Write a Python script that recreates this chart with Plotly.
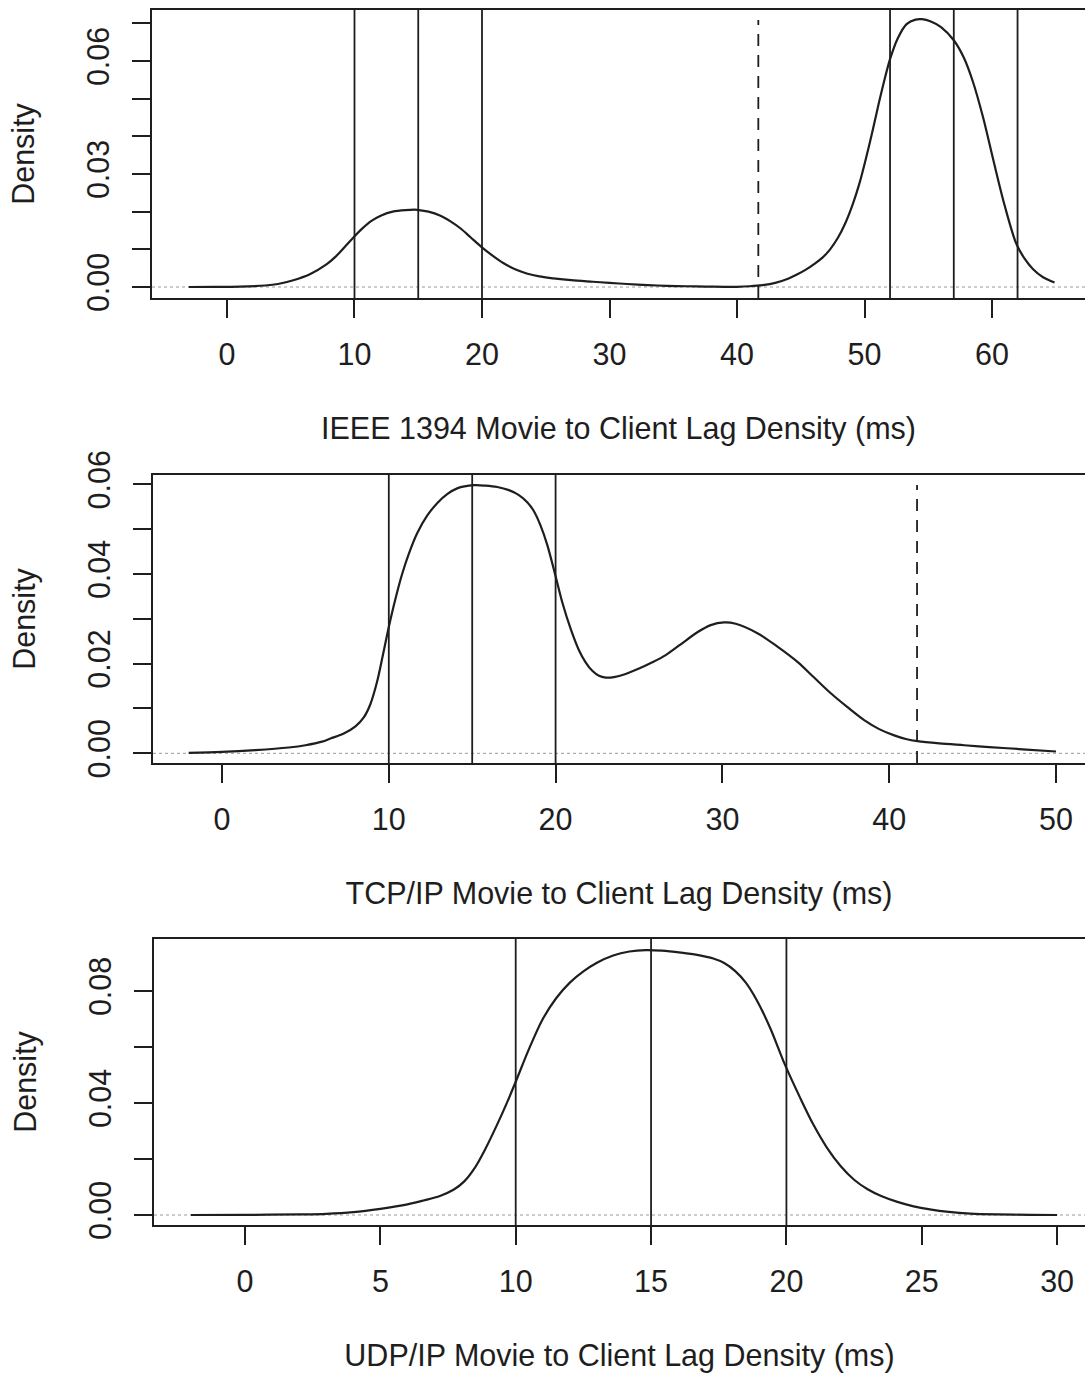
import plotly.graph_objects as go

# ---------------- data ----------------
ieee_x = [-3.0, -1.0, 1.0, 3.0, 4.0, 5.2, 6.5, 7.8, 8.5, 9.2, 9.9, 10.6, 11.3, 12.1, 13.0,
          14.0, 14.9, 15.8, 16.7, 17.5, 18.3, 19.1, 19.9, 20.8, 21.7, 22.6, 23.5, 24.5, 25.6,
          27.0, 28.7, 30.0, 31.4, 33.0, 34.5, 36.0, 37.5, 39.0, 40.0, 41.0, 42.0, 43.0, 44.0,
          44.7, 45.4, 46.1, 46.7, 47.3, 47.9, 48.5, 49.1, 49.6, 50.1, 50.6, 51.1, 51.6, 52.0,
          52.6, 53.3, 54.0, 54.5, 55.2, 56.0, 57.0, 57.8, 58.5, 59.3, 60.1, 61.0, 61.9, 62.5,
          63.2, 64.0, 64.9]
ieee_d = [0.0, 0.00002, 0.0001, 0.0004, 0.0008, 0.0018, 0.0034, 0.0060, 0.0080, 0.0105, 0.0131,
          0.0155, 0.0175, 0.0190, 0.0200, 0.0204, 0.0205, 0.0200, 0.0190, 0.0175, 0.0156, 0.0132,
          0.0108, 0.0084, 0.0063, 0.0047, 0.0036, 0.0028, 0.0023, 0.0018, 0.0014, 0.0011, 0.0008,
          0.0005, 0.0003, 0.0002, 0.0001, 0.00005, 0.00005, 0.0002, 0.0005, 0.0011, 0.0022,
          0.0033, 0.0046, 0.0062, 0.0078, 0.0100, 0.0130, 0.0170, 0.0222, 0.0275, 0.0340, 0.0410,
          0.0485, 0.0555, 0.0605, 0.0660, 0.0698, 0.0710, 0.0711, 0.0705, 0.0690, 0.0655, 0.0608,
          0.0545, 0.0450, 0.0337, 0.0215, 0.0115, 0.0078, 0.0048, 0.0026, 0.0012]

tcp_x = [-2.0, 0.0, 2.0, 4.0, 5.0, 6.0, 6.5, 7.3, 8.0, 8.5, 8.9, 9.3, 9.65, 10.0, 10.4, 10.8,
         11.2, 11.7, 12.3, 12.9, 13.5, 14.1, 15.1, 15.8, 16.5, 17.2, 17.8, 18.3, 18.7, 19.1,
         19.5, 20.0, 20.4, 20.9, 21.4, 21.8, 22.2, 22.6, 23.0, 23.5, 24.2, 25.0, 25.8, 26.6,
         27.5, 28.5, 29.3, 30.1, 30.8, 32.1, 33.3, 34.5, 35.5, 36.5, 37.5, 38.5, 39.4, 40.3,
         41.0, 41.7, 43.0, 44.5, 46.0, 48.0, 50.0]
tcp_d = [0.0001, 0.0003, 0.0007, 0.0013, 0.0018, 0.0026, 0.0033, 0.0044, 0.0060, 0.0080, 0.0110,
         0.0160, 0.0220, 0.0282, 0.0345, 0.0400, 0.0445, 0.0491, 0.0530, 0.0558, 0.0578, 0.0591,
         0.0598, 0.0597, 0.0594, 0.0587, 0.0576, 0.0560, 0.0540, 0.0508, 0.0465, 0.0395, 0.0337,
         0.0278, 0.0230, 0.0203, 0.0184, 0.0173, 0.0169, 0.0170, 0.0177, 0.0189, 0.0203, 0.0219,
         0.0243, 0.0270, 0.0286, 0.0292, 0.0289, 0.0268, 0.0238, 0.0204, 0.0169, 0.0134, 0.0103,
         0.0074, 0.0054, 0.0040, 0.0032, 0.0027, 0.0022, 0.0018, 0.0014, 0.0009, 0.0004]

udp_x = [-2.0, 0.0, 2.0, 3.0, 4.0, 5.0, 6.0, 6.6, 7.2, 7.7, 8.1, 8.5, 8.9, 9.3, 9.65, 10.0,
         10.5, 11.0, 11.5, 12.0, 12.5, 13.0, 13.6, 14.2, 14.8, 15.4, 16.1, 16.7, 17.3, 17.7,
         18.1, 18.5, 18.9, 19.4, 19.95, 20.5, 21.0, 21.5, 22.0, 22.5, 23.0, 23.5, 24.1, 24.7,
         25.3, 26.0, 26.8, 27.8, 29.0, 30.0]
udp_d = [0.0, 0.00005, 0.0002, 0.0004, 0.0010, 0.0022, 0.0038, 0.0052, 0.0068, 0.0090, 0.0120,
         0.0170, 0.0240, 0.0320, 0.0395, 0.0476, 0.0595, 0.0700, 0.0775, 0.0830, 0.0870, 0.0901,
         0.0927, 0.0941, 0.0946, 0.0944, 0.0937, 0.0929, 0.0916, 0.0900, 0.0872, 0.0830, 0.0768,
         0.0668, 0.0536, 0.0420, 0.0322, 0.0240, 0.0175, 0.0126, 0.0092, 0.0068, 0.0047, 0.0031,
         0.0020, 0.0011, 0.0005, 0.0002, 0.00005, 0.0]

ieee_marks = [10, 15, 20, 52, 57, 62]
tcp_marks = [10, 15, 20]
udp_marks = [10, 15, 20]
frame_ms = 41.67  # dashed reference line

ieee_xticks = [0, 10, 20, 30, 40, 50, 60]
tcp_xticks = [0, 10, 20, 30, 40, 50]
udp_xticks = [0, 5, 10, 15, 20, 25, 30]

ieee_yticks = [0.00, 0.01, 0.02, 0.03, 0.04, 0.05, 0.06, 0.07]
ieee_ylabels = ["0.00", "", "", "0.03", "", "", "0.06", ""]
tcp_yticks = [0.00, 0.01, 0.02, 0.03, 0.04, 0.05, 0.06]
tcp_ylabels = ["0.00", "", "0.02", "", "0.04", "", "0.06"]
udp_yticks = [0.00, 0.02, 0.04, 0.06, 0.08]
udp_ylabels = ["0.00", "", "0.04", "", "0.08"]

titles = ["IEEE 1394 Movie to Client Lag Density (ms)",
          "TCP/IP Movie to Client Lag Density (ms)",
          "UDP/IP Movie to Client Lag Density (ms)"]

# ---------------- layout ----------------
W, H = 1085, 1377
FONT = "Liberation Sans, Arial, Helvetica, sans-serif"
INK = "#1e1e1e"
FS = 30.5

panels = [
    dict(x=ieee_x, d=ieee_d, marks=ieee_marks, dashed=True, xticks=ieee_xticks,
         yticks=ieee_yticks, ylabels=ieee_ylabels, left=152, top=10, bottom=298,
         xr=[-5.88, 67.29], yr=[-0.00292, 0.07354]),
    dict(x=tcp_x, d=tcp_d, marks=tcp_marks, dashed=True, xticks=tcp_xticks,
         yticks=tcp_yticks, ylabels=tcp_ylabels, left=153, top=475, bottom=763,
         xr=[-4.137, 51.74], yr=[-0.00216, 0.06208]),
    dict(x=udp_x, d=udp_d, marks=udp_marks, dashed=False, xticks=udp_xticks,
         yticks=udp_yticks, ylabels=udp_ylabels, left=154, top=939, bottom=1225,
         xr=[-3.362, 31.03], yr=[-0.00357, 0.09857]),
]

fig = go.Figure()
shapes = []
layout = dict(
    width=W, height=H, margin=dict(l=0, r=0, t=0, b=0, autoexpand=False),
    paper_bgcolor="white", plot_bgcolor="white", showlegend=False,
    font=dict(family=FONT, size=FS, color=INK),
)

for i, p in enumerate(panels):
    n = "" if i == 0 else str(i + 1)
    xa, ya = "x" + n, "y" + n
    fig.add_trace(go.Scatter(x=p["x"], y=p["d"], mode="lines", xaxis=xa, yaxis=ya,
                             line=dict(color=INK, width=2.2, shape="spline", smoothing=0.9),
                             hoverinfo="skip"))
    layout["xaxis" + n] = dict(
        domain=[p["left"] / W, 1.0], anchor=ya, range=p["xr"], automargin=False,
        showgrid=False, zeroline=False, showline=True, mirror=True,
        linecolor=INK, linewidth=2,
        ticks="outside", ticklen=18, tickwidth=2, tickcolor=INK,
        tickmode="array", tickvals=p["xticks"], ticktext=[str(t) for t in p["xticks"]],
        tickfont=dict(size=FS, color=INK), ticklabelstandoff=10,
        title=dict(text=titles[i], font=dict(size=FS, color=INK), standoff=48),
    )
    layout["yaxis" + n] = dict(
        domain=[1 - p["bottom"] / H, 1 - p["top"] / H], anchor=xa, range=p["yr"],
        automargin=False,
        showgrid=False, zeroline=False, showline=True, mirror=False,
        linecolor=INK, linewidth=2,
        ticks="outside", ticklen=18, tickwidth=2, tickcolor=INK,
        tickmode="array", tickvals=p["yticks"], ticktext=p["ylabels"],
        tickangle=-90, tickfont=dict(size=FS, color=INK), ticklabelstandoff=11,
        title=dict(text="Density", font=dict(size=FS, color=INK), standoff=37),
    )
    # dotted zero line (density baseline)
    shapes.append(dict(type="line", xref=xa + " domain", yref=ya, x0=0, x1=1, y0=0, y1=0,
                       line=dict(color="#9a9a9a", width=1, dash="dot"), layer="below"))
    for m in p["marks"]:
        shapes.append(dict(type="line", xref=xa, yref=ya + " domain", x0=m, x1=m, y0=0, y1=1,
                           line=dict(color=INK, width=1.8)))
    if p["dashed"]:
        shapes.append(dict(type="line", xref=xa, yref=ya + " domain", x0=frame_ms, x1=frame_ms,
                           y0=0, y1=0.965, line=dict(color=INK, width=1.8, dash="12px,9px")))

layout["shapes"] = shapes
fig.update_layout(**layout)
fig.write_html("out.html")
